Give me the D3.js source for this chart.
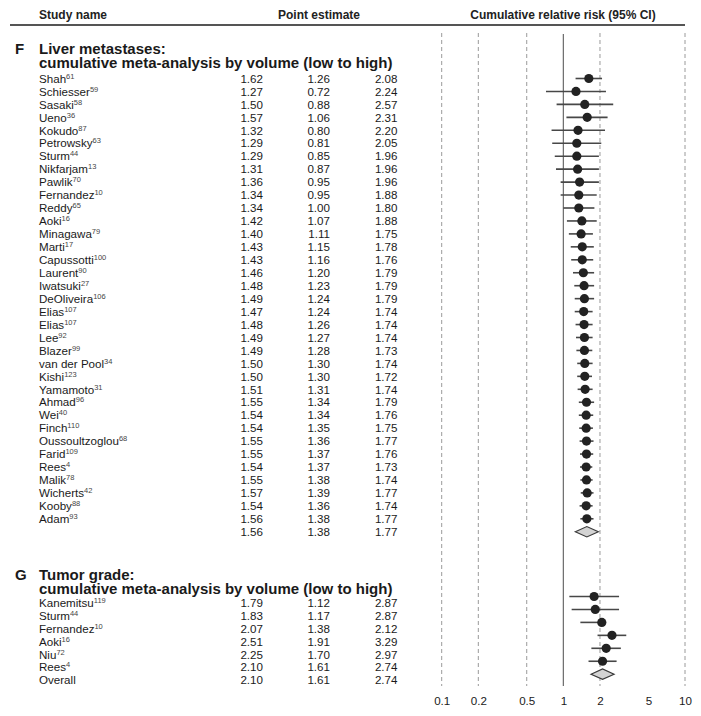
<!DOCTYPE html>
<html lang="en">
<head>
    <meta charset="utf-8">
    <title>Cumulative meta-analysis forest plot</title>
    <script src="https://cdn.jsdelivr.net/npm/d3@7"></script>
</head>
<style>
    body {
        margin: 0;
        padding: 0;
        background-color: #ffffff;
        font-family: "Liberation Sans", Arial, sans-serif;
    }
    .head text {
        font-size: 12px;
        font-weight: bold;
        fill: #222;
    }
    .section-title {
        font-size: 15px;
        font-weight: bold;
        fill: #1a1a1a;
    }
    .row text {
        font-size: 11.6px;
        fill: #1a1a1a;
    }
    .x-axis text {
        font-size: 11.6px;
        fill: #1a1a1a;
    }
</style>
<body>
    <svg width="701" height="716" id="chart"></svg>
    <script>
        // Panel F: liver metastases
        var fNames = ["Shah", "Schiesser", "Sasaki", "Ueno", "Kokudo", "Petrowsky", "Sturm", "Nikfarjam", "Pawlik",
            "Fernandez", "Reddy", "Aoki", "Minagawa", "Marti", "Capussotti", "Laurent", "Iwatsuki", "DeOliveira",
            "Elias", "Elias", "Lee", "Blazer", "van der Pool", "Kishi", "Yamamoto", "Ahmad", "Wei", "Finch",
            "Oussoultzoglou", "Farid", "Rees", "Malik", "Wicherts", "Kooby", "Adam", ""];
        var fRefs = ["61", "59", "58", "36", "87", "63", "44", "13", "70", "10", "65", "16", "79", "17", "100", "90",
            "27", "106", "107", "107", "92", "99", "34", "123", "31", "96", "40", "110", "68", "109", "4", "78",
            "42", "88", "93", ""];
        var fEst = [1.62, 1.27, 1.50, 1.57, 1.32, 1.29, 1.29, 1.31, 1.36, 1.34, 1.34, 1.42, 1.40, 1.43, 1.43, 1.46,
            1.48, 1.49, 1.47, 1.48, 1.49, 1.49, 1.50, 1.50, 1.51, 1.55, 1.54, 1.54, 1.55, 1.55, 1.54, 1.55, 1.57,
            1.54, 1.56, 1.56];
        var fLow = [1.26, 0.72, 0.88, 1.06, 0.80, 0.81, 0.85, 0.87, 0.95, 0.95, 1.00, 1.07, 1.11, 1.15, 1.16, 1.20,
            1.23, 1.24, 1.24, 1.26, 1.27, 1.28, 1.30, 1.30, 1.31, 1.34, 1.34, 1.35, 1.36, 1.37, 1.37, 1.38, 1.39,
            1.36, 1.38, 1.38];
        var fHigh = [2.08, 2.24, 2.57, 2.31, 2.20, 2.05, 1.96, 1.96, 1.96, 1.88, 1.80, 1.88, 1.75, 1.78, 1.76, 1.79,
            1.79, 1.79, 1.74, 1.74, 1.74, 1.73, 1.74, 1.72, 1.74, 1.79, 1.76, 1.75, 1.77, 1.76, 1.73, 1.74, 1.77,
            1.74, 1.77, 1.77];

        // Panel G: tumor grade
        var gNames = ["Kanemitsu", "Sturm", "Fernandez", "Aoki", "Niu", "Rees", "Overall"];
        var gRefs = ["119", "44", "10", "16", "72", "4", ""];
        var gEst = [1.79, 1.83, 2.07, 2.51, 2.25, 2.10, 2.10];
        var gLow = [1.12, 1.17, 1.38, 1.91, 1.70, 1.61, 1.61];
        var gHigh = [2.87, 2.87, 2.12, 3.29, 2.97, 2.74, 2.74];

        var tickValues = [0.1, 0.2, 0.5, 1, 2, 5, 10];
        var gridValues = [0.1, 0.2, 0.5, 2, 10];

        var svg = d3.select("#chart");
        var rowStep = 12.95;

        var x = d3.scaleLog().domain([0.1, 10]).range([441.7, 685]);

        // vertical reference lines
        svg.append("g")
            .selectAll("line")
            .data(gridValues)
            .enter().append("line")
            .attr("x1", function (d) { return x(d); })
            .attr("x2", function (d) { return x(d); })
            .attr("y1", 33)
            .attr("y2", 686)
            .attr("stroke", "#9a9a9a")
            .attr("stroke-width", 1)
            .attr("stroke-dasharray", "4,3");

        svg.append("line")
            .attr("x1", x(1)).attr("x2", x(1))
            .attr("y1", 34).attr("y2", 686)
            .attr("stroke", "#6a6a6a")
            .attr("stroke-width", 1.2);

        // x axis (labels only)
        var xAxis = d3.axisBottom(x)
            .tickValues(tickValues)
            .tickFormat(function (d) { return d3.format("~g")(d); })
            .tickSize(0)
            .tickPadding(0);

        var axisG = svg.append("g")
            .attr("class", "x-axis")
            .attr("transform", "translate(0,697)")
            .call(xAxis);
        axisG.select(".domain").remove();
        axisG.selectAll("text").attr("font-family", "Liberation Sans, Arial, sans-serif");

        // header
        var head = svg.append("g").attr("class", "head");
        head.append("text").attr("x", 39).attr("y", 18.5).text("Study name");
        head.append("text").attr("x", 278).attr("y", 18.5).text("Point estimate");
        head.append("text").attr("x", 563).attr("y", 18.5).attr("text-anchor", "middle")
            .text("Cumulative relative risk (95% CI)");
        svg.append("line")
            .attr("x1", 10).attr("x2", 685)
            .attr("y1", 25).attr("y2", 25)
            .attr("stroke", "#555")
            .attr("stroke-width", 2);

        function drawPanel(letter, title, titleY, rowTop, names, refs, est, low, high, markShift) {
            var y = d3.scaleLinear().domain([0, 1]).range([rowTop, rowTop + rowStep]);
            var n = names.length;

            svg.append("text").attr("class", "section-title")
                .attr("x", 15).attr("y", titleY).text(letter);
            svg.append("text").attr("class", "section-title")
                .attr("x", 39).attr("y", titleY).text(title);
            svg.append("text").attr("class", "section-title")
                .attr("x", 39).attr("y", titleY + 14)
                .text("cumulative meta-analysis by volume (low to high)");

            var rows = svg.append("g").attr("class", "row")
                .selectAll("g")
                .data(d3.range(n))
                .enter().append("g");

            var nameText = rows.append("text")
                .attr("x", 39)
                .attr("y", function (i) { return y(i); });
            nameText.append("tspan").text(function (i) { return names[i]; });
            nameText.append("tspan")
                .attr("dy", -4)
                .style("font-size", "7.5px")
                .style("fill", "#444")
                .text(function (i) { return refs[i]; });

            var cols = [{ v: est, x: 263 }, { v: low, x: 330 }, { v: high, x: 397.5 }];
            cols.forEach(function (c) {
                rows.append("text")
                    .attr("x", c.x)
                    .attr("y", function (i) { return y(i); })
                    .attr("text-anchor", "end")
                    .text(function (i) { return c.v[i].toFixed(2); });
            });

            // marks: all rows but the last get CI + dot, the last gets a diamond
            var cy = function (i) { return y(i) - 4.2 + markShift; };
            var studies = d3.range(n - 1);

            svg.append("g").selectAll("line")
                .data(studies)
                .enter().append("line")
                .attr("x1", function (i) { return x(low[i]); })
                .attr("x2", function (i) { return x(high[i]); })
                .attr("y1", cy).attr("y2", cy)
                .attr("stroke", "#474747")
                .attr("stroke-width", 1.6);

            svg.append("g").selectAll("circle")
                .data(studies)
                .enter().append("circle")
                .attr("cx", function (i) { return x(est[i]); })
                .attr("cy", cy)
                .attr("r", 4.6)
                .attr("fill", "#222");

            var last = n - 1;
            var cx = x(est[last]), dy = cy(last);
            svg.append("path")
                .attr("d", "M" + (cx - 11.5) + "," + dy + "L" + cx + "," + (dy - 5.2) +
                    "L" + (cx + 11.5) + "," + dy + "L" + cx + "," + (dy + 5.2) + "Z")
                .attr("fill", "#d3d3d3")
                .attr("stroke", "#3a3a3a")
                .attr("stroke-width", 1.2);
        }

        drawPanel("F", "Liver metastases:", 53.5, 82.7, fNames, fRefs, fEst, fLow, fHigh, 0);
        drawPanel("G", "Tumor grade:", 580, 606.7, gNames, gRefs, gEst, gLow, gHigh, -6);
    </script>
</body>
</html>
